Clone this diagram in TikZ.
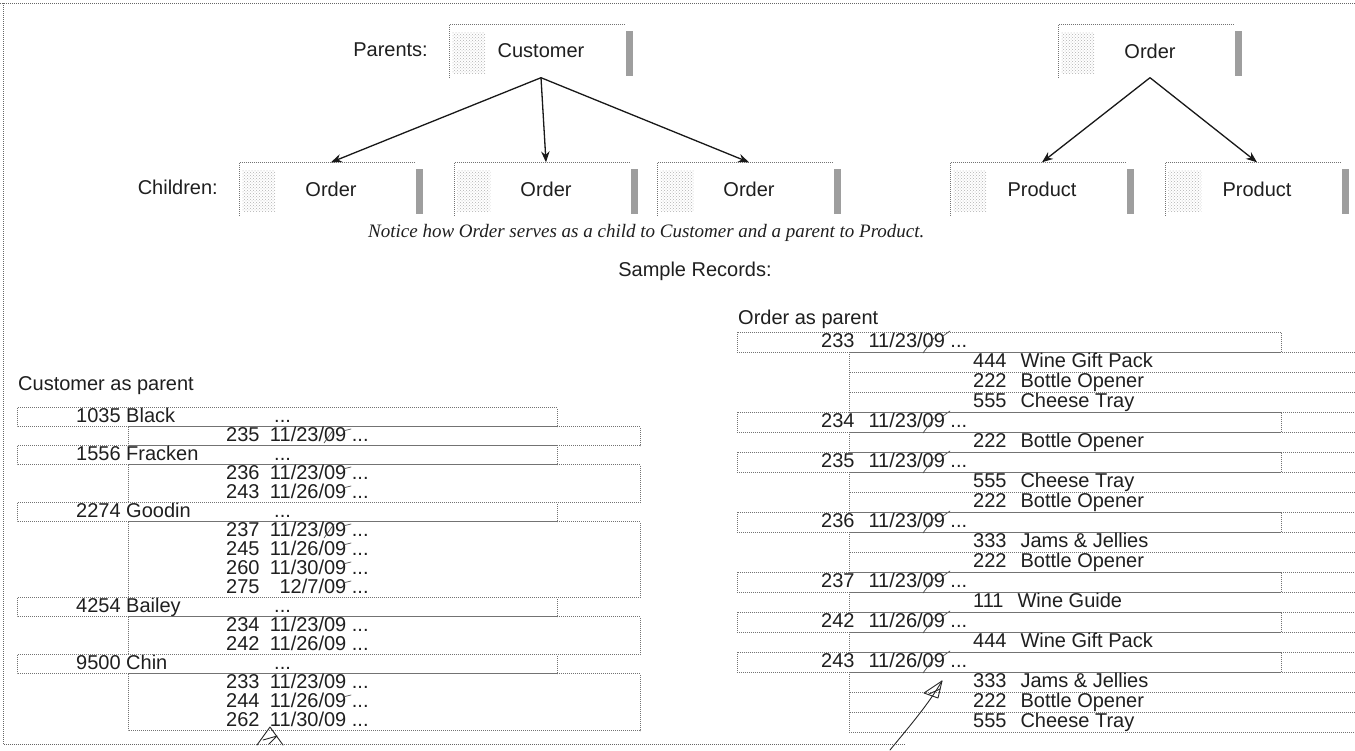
\documentclass[tikz,border=0pt]{standalone}
\usepackage{fontspec}
\setmainfont{Liberation Sans}
\newfontfamily\capfont{Liberation Serif}
\usetikzlibrary{arrows.meta,patterns}
\newcommand\txtsz{\fontsize{20}{22}\selectfont}
\newcommand\capsz{\fontsize{19}{22}\selectfont}
\begin{document}
\begin{tikzpicture}[x=1pt,y=-1pt,
  txt/.style={font=\txtsz, inner sep=0pt, text height=14pt, text depth=4pt, text=black!88},
  hbox/.style={minimum width=183pt, minimum height=53pt, inner sep=0pt, font=\txtsz, text=black!88},
  frame/.style={draw=black!60, line width=0.7pt, dash pattern=on 0.8pt off 1.2pt},
  tline/.style={draw=black!55, line width=0.6pt, dash pattern=on 1pt off 1pt},
  arr/.style={-{Stealth[length=11pt,width=8.5pt]}, line width=1.3pt, draw=black!90, fill=black!90},
  hand/.style={draw=black!85, line width=0.9pt, line cap=round, line join=round},
  tick/.style={draw=black!70, line width=0.7pt, line cap=round},
]
\useasboundingbox (0,0) rectangle (1355,750);
\fill[white] (0,0) rectangle (1355,750);

% outer frame
\draw[frame] (0,3) -- (1355,3);
\draw[frame] (3,3) -- (3,744) -- (905,744);

% hierarchy boxes
\node[hbox] (cust) at (541,51) {Customer};
\node[hbox] (ordp) at (1150,51) {Order};
\node[hbox] (o1) at (331,189) {Order};
\node[hbox] (o2) at (546,189) {Order};
\node[hbox] (o3) at (749,189) {Order};
\node[hbox] (p1) at (1042,189) {Product};
\node[hbox] (p2) at (1257,189) {Product};
\foreach \b in {cust,ordp,o1,o2,o3,p1,p2}{
  \draw[tline] (\b.south west) -- (\b.north west) -- ([xshift=-8pt]\b.north east);
  \fill[black!38] ([xshift=-7pt,yshift=-7pt]\b.north east) rectangle ([yshift=2pt]\b.south east);
  \fill[pattern=crosshatch dots, pattern color=black!30] ([xshift=3pt,yshift=-8pt]\b.north west) rectangle ([xshift=36pt,yshift=4pt]\b.south west);
}

\node[txt, anchor=east] (parlbl) at (428,51) {Parents:};
\node[txt, anchor=east] (chlbl) at (218,189) {Children:};

\draw[arr] (cust.south) -- (o1.north);
\draw[arr] (cust.south) -- (o2.north);
\draw[arr] (cust.south) -- (o3.north);
\draw[arr] (ordp.south) -- (p1.north);
\draw[arr] (ordp.south) -- (p2.north);

\node[anchor=west, inner sep=0pt, font=\capfont\itshape\capsz, text=black!88] (note) at (368,233)
  {Notice how Order serves as a child to Customer and a parent to Product.};

\node[txt] (samp) at (695,271) {Sample Records:};
\node[txt, anchor=west] (ordpar) at (738,319) {Order as parent};
\node[txt, anchor=west] (custpar) at (18,385) {Customer as parent};

% ---------- Customer as parent ----------
\foreach \r/\t in {0/1035 Black, 2/1556 Fracken, 5/2274 Goodin, 10/4254 Bailey, 13/9500 Chin}{
  \pgfmathsetmacro\yy{417+19*\r}
  \draw[tline] (17,\yy-9.5) rectangle (557,\yy+9.5);
  \node[txt, anchor=west] (lpn\r) at (76,\yy) {\t};
  \node[txt, anchor=west] (lpd\r) at (274,\yy) {...};
}
\foreach \f/\l in {1/1, 3/4, 6/9, 11/12, 14/16}{
  \draw[tline] (128,417+19*\f-9.5) rectangle (640,417+19*\l+9.5);
}
\foreach \r/\n/\d in {1/235/{11/23/09}, 3/236/{11/23/09}, 4/243/{11/26/09},
  6/237/{11/23/09}, 7/245/{11/26/09}, 8/260/{11/30/09}, 9/275/{12/7/09},
  11/234/{11/23/09}, 12/242/{11/26/09},
  14/233/{11/23/09}, 15/244/{11/26/09}, 16/262/{11/30/09}}{
  \pgfmathsetmacro\yy{417+19*\r}
  \node[txt, anchor=west] (lc\r) at (226,\yy) {\n\hspace{0.45em}\makebox[3.89em][r]{\d} ...};
}
% hand ticks after the years
\foreach \r in {1,3,4,6,7,8,9,15}{
  \pgfmathsetmacro\yy{417+19*\r}
  \draw[tick] (343,\yy-5) -- (351,\yy-7);
}
\foreach \r in {1,6}{
  \pgfmathsetmacro\yy{417+19*\r}
  \draw[tick] (324,\yy+7) -- (334,\yy-7);
}

% ---------- Order as parent ----------
\foreach \r/\n/\d in {0/233/{11/23/09}, 4/234/{11/23/09}, 6/235/{11/23/09},
  9/236/{11/23/09}, 12/237/{11/23/09}, 14/242/{11/26/09}, 16/243/{11/26/09}}{
  \pgfmathsetmacro\yy{342+20*\r}
  \draw[tline] (737,\yy-10) rectangle (1281,\yy+10);
  \node[txt, anchor=west] (rp\r) at (821,\yy) {\n\hspace{0.7em}\d\ ...};
  \draw[tick] (923,\yy+11) -- (934,\yy-4);
  \draw[tick] (943,\yy-6) -- (950,\yy-11);
}
\foreach \r/\n/\p in {1/444/Wine Gift Pack, 2/222/Bottle Opener, 3/555/Cheese Tray,
  5/222/Bottle Opener, 7/555/Cheese Tray, 8/222/Bottle Opener,
  10/333/Jams \& Jellies, 11/222/Bottle Opener, 13/111/Wine Guide,
  15/444/Wine Gift Pack, 17/333/Jams \& Jellies, 18/222/Bottle Opener, 19/555/Cheese Tray}{
  \pgfmathsetmacro\yy{342+20*\r}
  \draw[tline] (1355,\yy-10) -- (849,\yy-10) -- (849,\yy+10);
  \node[txt, anchor=west] (rc\r) at (973,\yy) {\n\hspace{0.7em}\p};
}
\foreach \r in {3,5,8,11,13,15,19}{
  \pgfmathsetmacro\yy{342+20*\r}
  \draw[tline] (849,\yy+10) -- (1355,\yy+10);
}

% ---------- hand-drawn marks ----------
\coordinate (ha) at (270,727);
\draw[hand] (257,745) -- (ha) -- (283,745);
\draw[hand] (263,740) -- (277,736) -- (269,744);
\coordinate (hc0) at (890,750);
\coordinate (hc1) at (942,681);
\draw[hand] (hc0) .. controls (908,728) and (928,705) .. (hc1);
\draw[hand] (924,693) -- (hc1) -- (938,698) -- cycle;
\draw[hand] (929,694) -- (940,689);
\end{tikzpicture}
\end{document}
